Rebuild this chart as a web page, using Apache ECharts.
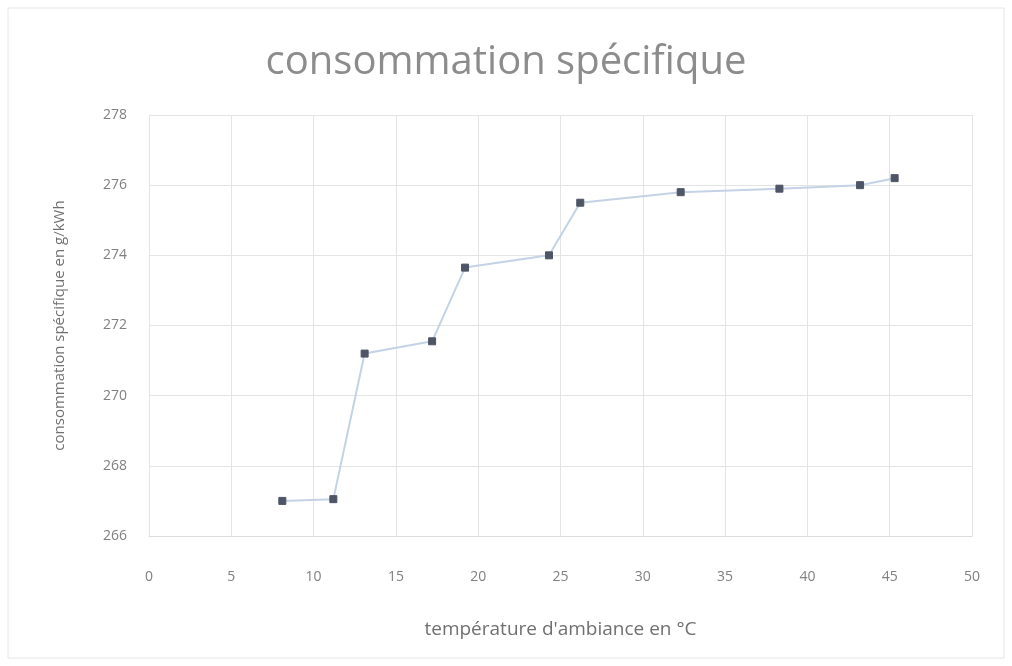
<!DOCTYPE html>
<html>
<head>
<meta charset="utf-8">
<script src="https://cdn.jsdelivr.net/npm/echarts@6/dist/echarts.min.js"></script>
<style>
  html, body { margin: 0; padding: 0; background: #ffffff; }
  #chart { width: 1012px; height: 666px; }
</style>
</head>
<body>
<div id="chart"></div>
<script>
// Ambient temperature (°C) and specific consumption (g/kWh)
const temperatures = [8.1, 11.2, 13.1, 17.2, 19.2, 24.3, 26.2, 32.3, 38.3, 43.2, 45.3];
const consumption = [267.0, 267.05, 271.2, 271.55, 273.65, 274.0, 275.5, 275.8, 275.9, 276.0, 276.2];

const titleText = 'consommation spécifique';
const xAxisTitle = "température d'ambiance en °C";
const yAxisTitle = 'consommation spécifique en g/kWh';

const points = temperatures.map((t, i) => [t, consumption[i]]);

const chart = echarts.init(document.getElementById('chart'));
chart.setOption({
  backgroundColor: '#ffffff',
  animation: false,
  graphic: [{
    type: 'rect',
    shape: { x: 8, y: 8, width: 996, height: 650 },
    style: { fill: 'none', stroke: '#e6e6e6', lineWidth: 1 }
  }],
  title: {
    text: titleText,
    left: 'center',
    top: 38,
    textStyle: {
      fontFamily: 'Open Sans',
      fontSize: 40,
      fontWeight: 'normal',
      color: '#8c8c8c'
    }
  },
  grid: { left: 149, right: 40, top: 115, bottom: 130 },
  xAxis: {
    type: 'value',
    min: 0,
    max: 50,
    interval: 5,
    name: xAxisTitle,
    nameLocation: 'middle',
    nameGap: 84,
    nameTextStyle: { fontFamily: 'Open Sans', fontSize: 19, color: '#707070' },
    axisLine: { show: true, lineStyle: { color: '#dcdcdc' } },
    axisTick: { show: false },
    axisLabel: { fontFamily: 'Open Sans', fontSize: 14, color: '#808080', margin: 34 },
    splitLine: { show: true, lineStyle: { color: '#e4e4e4' } }
  },
  yAxis: {
    type: 'value',
    min: 266,
    max: 278,
    interval: 2,
    name: yAxisTitle,
    nameLocation: 'middle',
    nameGap: 82,
    nameRotate: 90,
    nameTextStyle: { fontFamily: 'Open Sans', fontSize: 15, color: '#707070' },
    axisLine: { show: false },
    axisTick: { show: false },
    axisLabel: { fontFamily: 'Open Sans', fontSize: 14, color: '#808080', margin: 22 },
    splitLine: { show: true, lineStyle: { color: '#e4e4e4' } }
  },
  series: [{
    type: 'line',
    data: points,
    symbol: 'rect',
    symbolSize: 7,
    lineStyle: { color: '#c4d2e6', width: 2 },
    itemStyle: { color: '#4e5566', borderColor: '#4e5566' }
  }]
});
</script>
</body>
</html>
